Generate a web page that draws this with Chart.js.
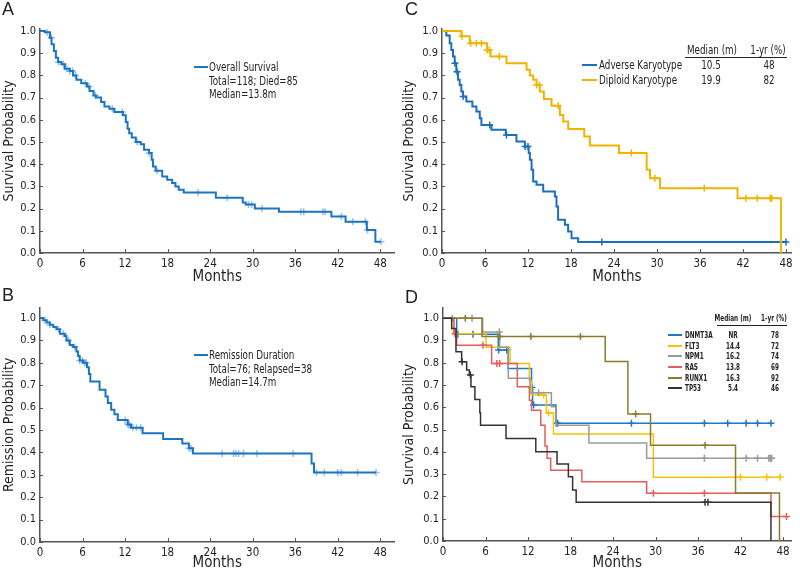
<!DOCTYPE html>
<html>
<head>
<meta charset="utf-8">
<script src="https://cdn.jsdelivr.net/npm/chart.js@4"></script>
<style>
body{margin:0;background:#fff;width:800px;height:571px;overflow:hidden;position:relative;font-family:"Liberation Sans Narrow","DejaVu Sans Condensed",sans-serif;color:#222}
canvas{position:absolute}
.t{position:absolute;white-space:nowrap;font-size:13px;line-height:14px}
.let{position:absolute;font-family:"Liberation Sans",sans-serif;font-size:18px;line-height:18px}
.ln{position:absolute;height:2px}
.rule{position:absolute;height:1px;background:#222}
.s{font-size:8.5px;line-height:10px;font-weight:bold}
</style>
</head>
<body>
<canvas id="cA" width="400" height="285" style="left:0;top:0"></canvas>
<canvas id="cC" width="400" height="285" style="left:400px;top:0"></canvas>
<canvas id="cB" width="400" height="286" style="left:0;top:285px"></canvas>
<canvas id="cD" width="400" height="286" style="left:400px;top:285px"></canvas>
<div class="let" style="left:2px;top:0">A</div>
<div class="let" style="left:405px;top:0">C</div>
<div class="let" style="left:2px;top:286px">B</div>
<div class="let" style="left:405px;top:288px">D</div>
<div id="legends"></div>
<script>
const monthTicks=[0,6,12,18,24,30,36,42,48];
const probTicks=[0,0.1,0.2,0.3,0.4,0.5,0.6,0.7,0.8,0.9,1.0];

/* A : overall survival */
const osTimes=[0,0.7,1.4,1.63,1.96,2.24,2.56,3.03,3.5,4.19,4.66,5.13,5.82,6.62,6.99,7.55,7.92,8.62,9.09,9.79,10.48,11.7,12.1,12.35,12.58,12.95,13.51,14.21,14.68,15.38,15.75,15.94,16.31,17.24,17.94,18.64,19.1,19.57,20.27,24.8,28.6,29.0,30.3,33.7,41.1,43.1,46.1,47.3,48.1];
const osSurv=[1.0,0.995,0.97,0.94,0.91,0.88,0.86,0.85,0.83,0.82,0.80,0.78,0.765,0.75,0.73,0.71,0.70,0.68,0.66,0.65,0.635,0.62,0.59,0.56,0.54,0.52,0.50,0.49,0.465,0.45,0.42,0.39,0.37,0.345,0.33,0.315,0.30,0.285,0.272,0.249,0.227,0.219,0.201,0.186,0.164,0.141,0.104,0.051,0.051];
const osCens=[1.0,1.6,2.6,3.3,3.8,4.2,4.6,5.0,6.4,6.9,7.8,10.2,11.6,13.7,15.4,16.5,22.3,26.4,29.4,29.85,31.3,36.8,37.2,39.9,40.2,42.5,44.1,45.9,46.2,48.1];

/* B : remission duration */
const remTimes=[0,0.47,0.93,1.4,1.87,2.33,2.8,3.5,3.73,4.2,4.67,5.13,5.37,5.6,6.07,6.63,6.9,7.1,8.4,9.24,9.57,10.04,10.5,10.97,12.37,12.84,14.47,17.37,20.07,21.0,21.57,38.3,38.65,47.4];
const remSurv=[1.0,0.99,0.98,0.97,0.96,0.95,0.93,0.92,0.90,0.88,0.87,0.85,0.83,0.81,0.80,0.78,0.75,0.716,0.68,0.65,0.62,0.59,0.57,0.545,0.525,0.51,0.485,0.46,0.44,0.418,0.395,0.35,0.31,0.31];
const remCens=[0.7,1.4,2.6,3.3,4.0,4.9,5.6,6.0,6.3,6.5,12.0,12.4,12.6,13.1,13.6,14.2,21.0,21.3,25.7,27.3,27.6,28.0,28.7,30.6,35.7,39.0,40.1,42.0,42.5,44.8,47.4];

/* C : karyotype */
const advTimes=[0,0.6,1.07,1.3,1.54,1.77,2.0,2.24,2.47,2.7,2.94,3.4,4.24,4.8,5.27,5.5,6.9,8.9,10.39,11.56,12.1,12.26,12.5,12.72,13.19,14.12,15.75,15.98,16.2,17.15,17.6,18.08,19.0,48.0];
const advSurv=[1.0,0.98,0.945,0.915,0.885,0.855,0.817,0.78,0.757,0.727,0.705,0.682,0.66,0.637,0.607,0.577,0.555,0.532,0.502,0.48,0.45,0.42,0.375,0.322,0.307,0.277,0.255,0.21,0.15,0.127,0.097,0.067,0.049,0.049];
const advCens=[1.8,2.1,2.95,6.66,9.0,11.6,12.0,22.3,48.0];
const dipTimes=[0,2.7,3.87,6.29,6.76,9.0,11.8,12.26,12.72,13.19,13.65,14.21,15.28,16.45,16.92,17.61,19.85,20.64,24.7,28.56,29.03,30.43,41.24,47.3];
const dipSurv=[1.0,0.977,0.945,0.915,0.885,0.855,0.825,0.80,0.78,0.757,0.727,0.694,0.663,0.622,0.592,0.559,0.525,0.484,0.45,0.375,0.337,0.292,0.247,0.0];
const dipCens=[2.8,4.0,4.8,5.5,6.3,6.6,8.0,13.2,13.6,16.2,26.4,29.7,36.6,42.4,44.0,45.8,46.0];

/* D : mutations */
const mutNames=["DNMT3A","FLT3","NPM1","RAS","RUNX1","TP53"];
const mutMedian=["NR","14.4","16.2","13.8","16.3","5.4"];
const mutOneYr=["78","72","74","69","92","46"];
const dnmTimes=[0,1.93,7.8,9.2,12.5,12.65,15.95,46.3];
const dnmSurv=[1.0,0.928,0.857,0.774,0.689,0.61,0.528,0.528];
const dnmCens=[2.1,4.24,7.86,9.0,12.55,12.8,16.0,16.2,26.6,36.9,40.2,42.8,44.4,46.3];
const flt3Times=[0,1.46,6.07,9.46,12.19,12.5,14.6,15.6,29.7,47.6];
const flt3Surv=[1.0,0.93,0.87,0.797,0.72,0.655,0.574,0.48,0.286,0.286];
const flt3Cens=[14.2,14.9,42.0,45.7,47.6];
const npmTimes=[0,5.6,8.0,9.22,12.28,15.3,15.95,20.6,28.75,46.3];
const npmSurv=[1.0,0.938,0.87,0.73,0.665,0.602,0.52,0.44,0.371,0.371];
const npmCens=[1.3,4.1,7.95,13.5,36.9,42.8,44.4,46.0,46.2,46.4];
const rasTimes=[0,1.55,1.93,6.87,10.49,12.2,12.5,13.8,14.4,14.7,15.2,19.6,28.75,46.3,48.5];
const rasSurv=[1.0,0.93,0.879,0.797,0.692,0.632,0.587,0.52,0.426,0.371,0.318,0.266,0.214,0.11,0.11];
const rasCens=[1.7,5.65,7.6,8.0,29.7,36.9,48.5];
const runTimes=[0,5.5,22.9,26.1,29.3,41.3,47.5];
const runSurv=[1.0,0.918,0.805,0.57,0.43,0.215,0.0];
const runCens=[3.15,8.0,12.4,19.4,27.2,37.0];
const tpTimes=[0,1.22,1.83,2.63,3.34,3.72,3.95,4.5,5.2,5.3,8.9,13.1,16.1,17.7,18.3,18.8,46.3];
const tpSurv=[1.0,0.954,0.849,0.804,0.767,0.745,0.692,0.635,0.575,0.52,0.46,0.40,0.345,0.288,0.229,0.174,0.0];
const tpCens=[2.7,3.86,37.0,37.4];

const FONT='"Liberation Sans Narrow","DejaVu Sans Condensed",sans-serif';
const axisColor='#555';
const textColor='#1e1e24';

function survAt(times,surv,t){
let s=surv[0];
for(let i=0;i<times.length;i++){ if(times[i]<=t) s=surv[i]; }
return s;
}

function curveSets(times,surv,cens,color,censColor,width,crossR){
return [
{data:times.map((t,i)=>({x:t,y:surv[i]})),borderColor:color,borderWidth:width,stepped:true,pointRadius:0,fill:false},
{data:cens.map(t=>({x:t,y:survAt(times,surv,t)})),showLine:false,pointStyle:'cross',pointRadius:crossR,pointBorderWidth:1.5,pointBorderColor:censColor,pointBackgroundColor:censColor}
];
}

const inwardTicks={
id:'inwardTicks',
beforeDatasetsDraw(chart){
const {ctx,chartArea,scales}=chart;
ctx.save();
ctx.strokeStyle=axisColor;
ctx.lineWidth=1;
scales.x.ticks.forEach(t=>{
const px=Math.round(scales.x.getPixelForValue(t.value))+0.5;
ctx.beginPath();ctx.moveTo(px,chartArea.bottom);ctx.lineTo(px,chartArea.bottom-4);ctx.stroke();
});
scales.y.ticks.forEach(t=>{
const py=Math.round(scales.y.getPixelForValue(t.value))+0.5;
ctx.beginPath();ctx.moveTo(chartArea.left,py);ctx.lineTo(chartArea.left+3,py);ctx.stroke();
});
ctx.restore();
}
};

function kmChart(id,g,datasets,yTitle){
new Chart(document.getElementById(id),{
type:'line',
data:{datasets},
options:{
animation:false,responsive:false,
layout:{padding:{top:g.top,right:g.right,left:0,bottom:0}},
plugins:{legend:{display:false},tooltip:{enabled:false}},
scales:{
x:{type:'linear',min:0,max:g.xMax,
afterBuildTicks:s=>{s.ticks=monthTicks.map(v=>({value:v}));},
afterFit:s=>{s.height=g.h-g.bottom;},
grid:{display:false,drawTicks:false},
border:{color:axisColor,width:1.5},
ticks:{padding:4,autoSkip:false,maxRotation:0,color:textColor,font:{family:FONT,size:11.5}},
title:{display:true,text:'Months',color:textColor,padding:0,font:{family:FONT,size:15,lineHeight:1}}},
y:{type:'linear',min:0,max:g.yMax,
afterBuildTicks:s=>{s.ticks=probTicks.map(v=>({value:v}));},
afterFit:s=>{s.width=g.left;},
grid:{display:false,drawTicks:false},
border:{color:axisColor,width:1.5},
ticks:{padding:4,autoSkip:false,color:textColor,font:{family:FONT,size:11},callback:v=>v.toFixed(1)},
title:{display:true,text:yTitle,color:textColor,padding:0,font:{family:FONT,size:14,lineHeight:1.3}}}
}
},
plugins:[inwardTicks]
});
}

const blue='#1c75c0', lightBlue='rgba(70,150,220,0.6)';
const mutColors=['#1f78c4','#f5c400','#9a9a9a','#e35d5d','#8c7b2e','#333333'];

kmChart('cA',{h:285,left:40,top:28.8,right:2.7,bottom:253,xMax:50,yMax:1.01},
curveSets(osTimes,osSurv,osCens,blue,lightBlue,2,3.5),'Survival Probability');

kmChart('cB',{h:286,left:40,top:22.7,right:3,bottom:257,xMax:50,yMax:1.046},
curveSets(remTimes,remSurv,remCens,blue,lightBlue,2,3.5),'Remission Probability');

kmChart('cC',{h:285,left:42,top:28.8,right:8.3,bottom:253,xMax:48.8,yMax:1.01},
[...curveSets(dipTimes,dipSurv,dipCens,'#f0b400','#f0b400',2,3.5),
...curveSets(advTimes,advSurv,advCens,'#1a6fbf','#1a6fbf',2,3.5)],'Survival Probability');

const mutData=[[dnmTimes,dnmSurv,dnmCens],[flt3Times,flt3Surv,flt3Cens],[npmTimes,npmSurv,npmCens],[rasTimes,rasSurv,rasCens],[runTimes,runSurv,runCens],[tpTimes,tpSurv,tpCens]];
let dSets=[];
[5,4,3,2,1,0].forEach(i=>{
dSets.push(...curveSets(mutData[i][0],mutData[i][1],mutData[i][2],mutColors[i],mutColors[i],1.5,3.5));
});
kmChart('cD',{h:286,left:43,top:22.7,right:8.5,bottom:256,xMax:49.2,yMax:1.047},dSets,'Survival Probability');

/* legends (text squeezed to the condensed face of the original) */
let html='';
const SQ=0.75;
function txt(x,y,s,cls,align){
const tr=align==='c'?`translate(-50%,-50%) scaleX(${SQ})`:`translate(0,-50%) scaleX(${SQ})`;
const org=align==='c'?'50% 50%':'0 50%';
html+=`<div class="t ${cls||''}" style="left:${x}px;top:${y}px;transform:${tr};transform-origin:${org}">${s}</div>`;
}
function ln(x,y,w,c){ html+=`<div class="ln" style="left:${x}px;top:${y-1}px;width:${w}px;background:${c}"></div>`; }

ln(194,67,14,blue);
txt(209,67,'Overall Survival');
txt(209,80.5,'Total=118; Died=85');
txt(209,93.5,'Median=13.8m');

ln(194,355,14,blue);
txt(209,355,'Remission Duration');
txt(209,368.5,'Total=76; Relapsed=38');
txt(209,381.5,'Median=14.7m');

txt(712,50,'Median (m)','','c');
txt(768,50,'1-yr (%)','','c');
html+='<div class="rule" style="left:685px;top:57px;width:102px"></div>';
ln(582,65,15,'#1a6fbf');
txt(599,65,'Adverse Karyotype');
txt(711,65,'10.5','','c');
txt(769,65,'48','','c');
ln(582,80,15,'#f0b400');
txt(599,80,'Diploid Karyotype');
txt(711,80,'19.9','','c');
txt(769,80,'82','','c');

txt(733,318,'Median (m)','s','c');
txt(774,318,'1-yr (%)','s','c');
html+='<div class="rule" style="left:717px;top:325px;width:70px"></div>';
mutNames.forEach((n,i)=>{
const y=335+i*10.67;
ln(668,y,14,mutColors[i]);
txt(685,y,n,'s');
txt(733,y,mutMedian[i],'s','c');
txt(775,y,mutOneYr[i],'s','c');
});
document.getElementById('legends').innerHTML=html;
</script>
</body>
</html>
